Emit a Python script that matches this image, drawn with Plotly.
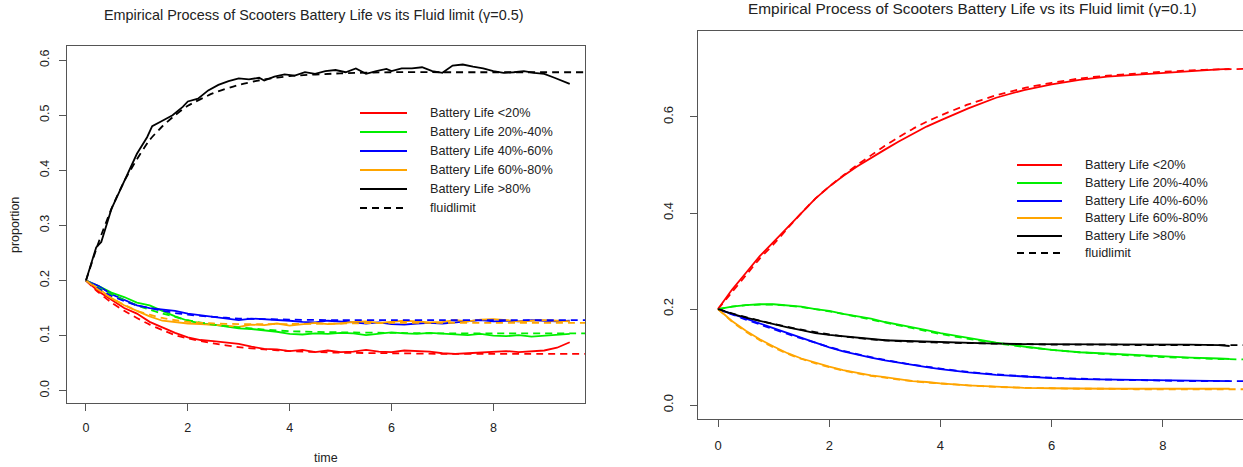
import plotly.graph_objects as go

# ---------------- data: left panel (gamma = 0.5) ----------------
L_T = [0, 0.25, 0.5, 0.75, 1, 1.25, 1.5, 1.75, 2, 2.25, 2.5, 2.75, 3, 3.25, 3.5, 3.75,
       4, 4.25, 4.5, 4.75, 5, 5.25, 5.5, 5.75, 6, 6.25, 6.5, 6.75, 7, 7.25, 7.5, 7.75,
       8, 8.25, 8.5, 8.75, 9, 9.25, 9.5]
L_RED = [0.2, 0.18, 0.165, 0.15, 0.14, 0.125, 0.115, 0.105, 0.097, 0.092, 0.09, 0.088, 0.085,
         0.08, 0.076, 0.075, 0.072, 0.074, 0.07, 0.073, 0.07, 0.071, 0.074, 0.071, 0.07, 0.073,
         0.072, 0.071, 0.068, 0.067, 0.068, 0.069, 0.071, 0.072, 0.07, 0.072, 0.073, 0.078, 0.088]
L_GREEN = [0.2, 0.19, 0.178, 0.17, 0.16, 0.155, 0.145, 0.135, 0.127, 0.122, 0.12, 0.116, 0.113,
           0.112, 0.11, 0.107, 0.103, 0.102, 0.104, 0.103, 0.105, 0.104, 0.101, 0.104, 0.106,
           0.104, 0.103, 0.105, 0.104, 0.102, 0.101, 0.103, 0.1, 0.099, 0.101, 0.098, 0.1, 0.102, 0.103]
L_BLUE = [0.2, 0.19, 0.175, 0.165, 0.155, 0.15, 0.148, 0.145, 0.14, 0.137, 0.133, 0.13, 0.128,
          0.131, 0.13, 0.128, 0.127, 0.125, 0.124, 0.127, 0.126, 0.124, 0.122, 0.124, 0.121,
          0.12, 0.122, 0.123, 0.122, 0.124, 0.126, 0.128, 0.126, 0.127, 0.126, 0.128, 0.127, 0.126, 0.127]
L_ORANGE = [0.2, 0.185, 0.168, 0.155, 0.145, 0.135, 0.127, 0.124, 0.122, 0.121, 0.12, 0.118, 0.116,
            0.12, 0.119, 0.122, 0.118, 0.12, 0.123, 0.121, 0.122, 0.125, 0.126, 0.123, 0.125,
            0.127, 0.126, 0.124, 0.125, 0.128, 0.126, 0.129, 0.13, 0.128, 0.126, 0.127, 0.128, 0.127, 0.126]
L_BLACK_T = [0, 0.1, 0.2, 0.3, 0.4, 0.5, 0.6, 0.7, 0.8, 0.9, 1.0, 1.2, 1.3, 1.5, 1.7, 1.9, 2.0,
             2.2, 2.4, 2.6, 2.8, 3.0, 3.2, 3.4, 3.5, 3.7, 3.9, 4.1, 4.3, 4.5, 4.7, 4.9, 5.1, 5.3,
             5.5, 5.7, 5.9, 6.0, 6.2, 6.4, 6.6, 6.8, 7.0, 7.2, 7.4, 7.6, 7.8, 8.0, 8.2, 8.4, 8.6,
             8.8, 9.0, 9.2, 9.4, 9.5]
L_BLACK = [0.2, 0.23, 0.26, 0.27, 0.3, 0.33, 0.35, 0.37, 0.39, 0.41, 0.43, 0.46, 0.48, 0.49,
           0.5, 0.515, 0.525, 0.53, 0.545, 0.555, 0.562, 0.567, 0.565, 0.568, 0.563, 0.57, 0.574,
           0.572, 0.578, 0.575, 0.58, 0.582, 0.578, 0.585, 0.575, 0.58, 0.584, 0.58, 0.585, 0.585,
           0.587, 0.58, 0.577, 0.59, 0.592, 0.588, 0.585, 0.58, 0.577, 0.578, 0.58, 0.577, 0.575,
           0.568, 0.56, 0.557]
L_FT = [0, 0.25, 0.5, 0.75, 1, 1.25, 1.5, 1.75, 2, 2.5, 3, 3.5, 4, 5, 6, 7, 8, 9.8]
L_RED_F = [0.2, 0.178, 0.16, 0.145, 0.132, 0.12, 0.11, 0.101, 0.095, 0.086, 0.079, 0.075, 0.072,
           0.069, 0.068, 0.067, 0.067, 0.067]
L_GREEN_F = [0.2, 0.187, 0.175, 0.164, 0.155, 0.147, 0.14, 0.134, 0.128, 0.12, 0.115, 0.111,
             0.108, 0.106, 0.105, 0.104, 0.104, 0.104]
L_BLUE_F = [0.2, 0.185, 0.172, 0.163, 0.155, 0.15, 0.145, 0.141, 0.138, 0.134, 0.131, 0.13,
            0.129, 0.128, 0.128, 0.128, 0.128, 0.128]
L_ORANGE_F = [0.2, 0.183, 0.168, 0.156, 0.145, 0.138, 0.132, 0.128, 0.125, 0.122, 0.121, 0.121,
              0.121, 0.122, 0.123, 0.123, 0.123, 0.123]
L_BLACK_F = [0.2, 0.27, 0.33, 0.38, 0.42, 0.455, 0.48, 0.5, 0.517, 0.54, 0.555, 0.565, 0.571,
             0.576, 0.578, 0.578, 0.578, 0.578]

# ---------------- data: right panel (gamma = 0.1) ----------------
R_T = [0, 0.25, 0.5, 0.75, 1, 1.25, 1.5, 1.75, 2, 2.25, 2.5, 2.75, 3, 3.25, 3.5, 3.75, 4,
       4.5, 5, 5.5, 6, 6.5, 7, 7.5, 8, 8.5, 9, 9.2]
R_RED = [0.2, 0.24, 0.275, 0.31, 0.34, 0.37, 0.4, 0.43, 0.455, 0.477, 0.497, 0.515, 0.532, 0.549,
         0.565, 0.58, 0.593, 0.618, 0.64, 0.656, 0.668, 0.677, 0.684, 0.688, 0.692, 0.695, 0.699, 0.7]
R_GREEN = [0.2, 0.205, 0.208, 0.21, 0.21, 0.208, 0.205, 0.2, 0.196, 0.19, 0.185, 0.18, 0.173,
           0.168, 0.162, 0.156, 0.15, 0.14, 0.13, 0.122, 0.115, 0.11, 0.107, 0.104, 0.101, 0.099, 0.097, 0.096]
R_BLUE = [0.2, 0.19, 0.18, 0.17, 0.16, 0.15, 0.14, 0.13, 0.12, 0.112, 0.105, 0.099, 0.093, 0.088,
          0.083, 0.079, 0.075, 0.068, 0.063, 0.059, 0.056, 0.054, 0.053, 0.052, 0.051, 0.05, 0.05, 0.05]
R_ORANGE = [0.2, 0.175, 0.155, 0.137, 0.122, 0.108, 0.097, 0.088, 0.08, 0.073, 0.067, 0.062, 0.058,
            0.054, 0.05, 0.048, 0.045, 0.041, 0.038, 0.036, 0.035, 0.034, 0.034, 0.034, 0.034, 0.034, 0.034, 0.034]
R_BLACK = [0.2, 0.19, 0.182, 0.175, 0.168, 0.162, 0.156, 0.15, 0.146, 0.143, 0.14, 0.137, 0.135,
           0.134, 0.133, 0.132, 0.131, 0.13, 0.128, 0.127, 0.127, 0.126, 0.126, 0.127, 0.127, 0.126, 0.125, 0.123]
R_FT = [0, 0.25, 0.5, 0.75, 1, 1.25, 1.5, 1.75, 2, 2.25, 2.5, 2.75, 3, 3.25, 3.5, 3.75, 4,
        4.5, 5, 5.5, 6, 6.5, 7, 7.5, 8, 8.5, 9, 9.44]
R_RED_F = [0.2, 0.235, 0.27, 0.305, 0.335, 0.368, 0.4, 0.43, 0.455, 0.478, 0.5, 0.52, 0.54, 0.558,
           0.575, 0.59, 0.603, 0.626, 0.645, 0.66, 0.671, 0.68, 0.686, 0.69, 0.694, 0.697, 0.699, 0.7]
R_GREEN_F = [0.2, 0.205, 0.208, 0.209, 0.209, 0.207, 0.204, 0.2, 0.195, 0.19, 0.184, 0.178, 0.172,
             0.166, 0.16, 0.154, 0.148, 0.138, 0.129, 0.121, 0.115, 0.11, 0.106, 0.103, 0.1, 0.098, 0.096, 0.095]
R_BLUE_F = [0.2, 0.189, 0.178, 0.168, 0.158, 0.148, 0.139, 0.13, 0.121, 0.113, 0.106, 0.1, 0.094,
            0.089, 0.084, 0.08, 0.076, 0.069, 0.064, 0.06, 0.057, 0.055, 0.053, 0.052, 0.051, 0.05, 0.05, 0.05]
R_ORANGE_F = [0.2, 0.174, 0.153, 0.135, 0.12, 0.107, 0.096, 0.087, 0.079, 0.072, 0.066, 0.061, 0.057,
              0.053, 0.05, 0.047, 0.045, 0.041, 0.038, 0.036, 0.035, 0.034, 0.034, 0.033, 0.033, 0.033, 0.033, 0.033]
R_BLACK_F = [0.2, 0.191, 0.183, 0.176, 0.169, 0.163, 0.157, 0.152, 0.147, 0.143, 0.14, 0.137, 0.135,
             0.133, 0.132, 0.131, 0.13, 0.129, 0.128, 0.127, 0.126, 0.126, 0.126, 0.125, 0.125, 0.125, 0.125, 0.125]

LEGEND_LABELS = ["Battery Life <20%", "Battery Life 20%-40%", "Battery Life 40%-60%",
                 "Battery Life 60%-80%", "Battery Life >80%", "fluidlimit"]
COLORS = ["#FF0000", "#00EE00", "#0000FF", "#FFA500", "#000000"]
TITLES = ["Empirical Process of Scooters Battery Life vs its Fluid limit (\u03b3=0.5)",
          "Empirical Process of Scooters Battery Life vs its Fluid limit (\u03b3=0.1)"]

W, H = 1243, 467
FONT = "Liberation Sans, Arial, sans-serif"
DASH = "7px,5px"

fig = go.Figure()

left_emp = [L_RED, L_GREEN, L_BLUE, L_ORANGE]
left_fl = [L_RED_F, L_GREEN_F, L_BLUE_F, L_ORANGE_F, L_BLACK_F]
for c, y in zip(COLORS[:4], left_emp):
    fig.add_trace(go.Scatter(x=L_T, y=y, mode="lines", line=dict(color=c, width=1.8),
                             xaxis="x", yaxis="y"))
fig.add_trace(go.Scatter(x=L_BLACK_T, y=L_BLACK, mode="lines", line=dict(color=COLORS[4], width=1.8),
                         xaxis="x", yaxis="y"))
for c, y in zip(COLORS, left_fl):
    fig.add_trace(go.Scatter(x=L_FT, y=y, mode="lines", line=dict(color=c, width=1.8, dash=DASH,
                             shape="spline", smoothing=0.6), xaxis="x", yaxis="y"))

right_emp = [R_RED, R_GREEN, R_BLUE, R_ORANGE, R_BLACK]
right_fl = [R_RED_F, R_GREEN_F, R_BLUE_F, R_ORANGE_F, R_BLACK_F]
for c, y in zip(COLORS, right_emp):
    fig.add_trace(go.Scatter(x=R_T, y=y, mode="lines", line=dict(color=c, width=1.8),
                             xaxis="x2", yaxis="y2"))
for c, y in zip(COLORS, right_fl):
    fig.add_trace(go.Scatter(x=R_FT, y=y, mode="lines", line=dict(color=c, width=1.8, dash=DASH,
                             shape="spline", smoothing=0.6), xaxis="x2", yaxis="y2"))

axis_common = dict(showgrid=False, zeroline=False, showline=True, linecolor="#555555", linewidth=1.2,
                   ticks="outside", ticklen=7, tickcolor="#555555", tickwidth=1.2,
                   tickfont=dict(family=FONT, color="#222222"))

fig.update_layout(
    width=W, height=H, margin=dict(l=0, r=0, t=0, b=0),
    paper_bgcolor="white", plot_bgcolor="white", showlegend=False,
    xaxis=dict(axis_common, domain=[67 / W, 585 / W], range=[-0.373, 9.80], anchor="y",
               tickvals=[0, 2, 4, 6, 8], mirror=True, ticklabelstandoff=6,
               tickfont=dict(family=FONT, size=12.5, color="#222222")),
    yaxis=dict(axis_common, domain=[1 - 403 / H, 1 - 46 / H], range=[-0.0223, 0.6256], anchor="x",
               tickvals=[0, 0.1, 0.2, 0.3, 0.4, 0.5, 0.6],
               ticktext=["0.0", "0.1", "0.2", "0.3", "0.4", "0.5", "0.6"],
               tickangle=-90, mirror=True, ticklabelstandoff=5,
               tickfont=dict(family=FONT, size=12.5, color="#222222")),
    xaxis2=dict(axis_common, domain=[698 / W, 1.0], range=[-0.36, 9.44], anchor="y2",
                tickvals=[0, 2, 4, 6, 8], mirror=True, ticklabelstandoff=7,
                tickfont=dict(family=FONT, size=13, color="#222222")),
    yaxis2=dict(axis_common, domain=[1 - 419 / H, 1 - 31 / H], range=[-0.029, 0.779], anchor="x2",
                tickvals=[0, 0.2, 0.4, 0.6], ticktext=["0.0", "0.2", "0.4", "0.6"],
                tickangle=-90, mirror=False, ticklabelstandoff=12,
                tickfont=dict(family=FONT, size=13, color="#222222")),
)

annotations = [
    dict(text=TITLES[0], x=313 / W, y=1 - 15 / H, xref="paper", yref="paper", showarrow=False,
         xanchor="center", yanchor="middle", font=dict(family=FONT, size=14.4, color="#222222")),
    dict(text=TITLES[1], x=972 / W, y=1 - 8 / H, xref="paper", yref="paper", showarrow=False,
         xanchor="center", yanchor="middle", font=dict(family=FONT, size=15.4, color="#222222")),
    dict(text="time", x=326 / W, y=1 - 458 / H, xref="paper", yref="paper", showarrow=False,
         xanchor="center", yanchor="middle", font=dict(family=FONT, size=12.5, color="#222222")),
    dict(text="proportion", x=15 / W, y=1 - 225 / H, xref="paper", yref="paper", showarrow=False,
         textangle=-90, xanchor="center", yanchor="middle", font=dict(family=FONT, size=12.5, color="#222222")),
]
shapes = []

# legends (left and right)
leg_specs = [
    dict(x0=360, x1=407, xt=428, ys=[113, 132, 151, 170, 189, 208], size=12.7),
    dict(x0=1017, x1=1062, xt=1083, ys=[165, 183, 201, 218, 236, 253], size=12.7),
]
for spec in leg_specs:
    for i, (lab, yy) in enumerate(zip(LEGEND_LABELS, spec["ys"])):
        col = COLORS[i] if i < 5 else "#000000"
        dash = "solid" if i < 5 else DASH
        shapes.append(dict(type="line", xref="paper", yref="paper",
                           x0=spec["x0"] / W, x1=spec["x1"] / W, y0=1 - yy / H, y1=1 - yy / H,
                           line=dict(color=col, width=1.8, dash=dash)))
        annotations.append(dict(text=lab, x=spec["xt"] / W, y=1 - yy / H, xref="paper", yref="paper",
                                showarrow=False, xanchor="left", yanchor="middle",
                                font=dict(family=FONT, size=spec["size"], color="#222222")))

fig.update_layout(annotations=annotations, shapes=shapes)
fig.write_html("out.html")
